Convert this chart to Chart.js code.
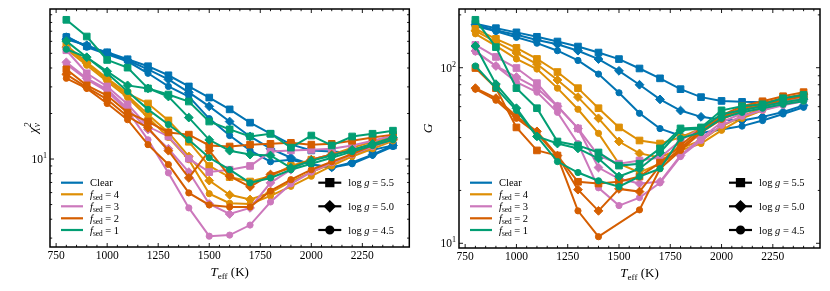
<!DOCTYPE html>
<html>
<head>
<meta charset="utf-8">
<script src="https://cdn.jsdelivr.net/npm/chart.js@4.4.0/dist/chart.umd.min.js"></script>
<style>
  html, body { margin: 0; padding: 0; background: #fff; }
  #wrap { position: relative; width: 830px; height: 291px; }
  canvas { position: absolute; top: 0; }
  #chiChart { left: 0; }
  #gChart { left: 415px; }
</style>
</head>
<body>
<div id="wrap">
  <canvas id="chiChart" width="415" height="291"></canvas>
  <canvas id="gChart" width="415" height="291"></canvas>
</div>
<script>
// temperatures (K)
const teff = [800, 900, 1000, 1100, 1200, 1300, 1400, 1500, 1600, 1700, 1800, 1900, 2000, 2100, 2200, 2300, 2400];

// reduced chi^2, left panel  (55 = log g 5.5, 50 = 5.0, 45 = 4.5)
const chiClear55 = [64.0, 55.7, 50.8, 45.7, 41.1, 35.8, 30.2, 25.5, 21.3, 17.4, 14.7, 12.5, 11.4, 11.2, 11.0, 11.5, 12.3];
const chiClear50 = [62.0, 56.6, 50.1, 45.0, 39.2, 33.6, 27.6, 22.3, 17.7, 14.1, 11.7, 10.2, 9.2, 8.8, 9.5, 10.7, 12.3];
const chiClear45 = [64.9, 54.9, 49.3, 44.3, 36.9, 30.2, 25.9, 18.5, 14.3, 11.4, 9.6, 9.9, 9.2, 8.8, 9.3, 10.6, 12.1];
const chiF4_55 = [56.6, 43.6, 34.2, 27.2, 23.3, 18.0, 13.0, 9.0, 7.6, 7.1, 7.7, 9.0, 9.9, 10.7, 11.9, 13.0, 14.1];
const chiF4_50 = [54.9, 43.0, 33.6, 26.3, 19.7, 15.0, 10.4, 7.2, 5.8, 5.4, 6.0, 7.1, 8.2, 9.3, 10.7, 12.1, 13.4];
const chiF4_45 = [53.2, 41.7, 32.6, 25.5, 18.8, 13.9, 9.9, 5.9, 5.1, 5.05, 5.7, 6.6, 7.7, 9.0, 10.4, 11.7, 13.2];
const chiF3_55 = [52.4, 36.9, 30.2, 23.0, 16.4, 14.1, 10.05, 8.2, 8.5, 9.0, 11.2, 11.4, 11.5, 11.7, 12.3, 13.2, 14.3];
const chiF3_50 = [43.6, 34.2, 28.9, 21.6, 15.7, 11.7, 8.2, 5.05, 4.33, 4.75, 6.96, 8.5, 9.9, 10.7, 11.5, 12.6, 13.6];
const chiF3_45 = [42.3, 33.6, 28.0, 20.9, 13.4, 8.1, 4.75, 3.09, 3.14, 3.66, 5.2, 6.85, 8.2, 9.45, 10.7, 12.1, 13.4];
const chiF2_55 = [39.2, 30.7, 26.3, 20.3, 17.7, 15.0, 14.5, 12.3, 12.1, 12.45, 12.6, 12.8, 12.45, 12.6, 13.2, 13.9, 14.5];
const chiF2_50 = [36.3, 29.8, 24.8, 19.1, 16.1, 11.35, 7.5, 11.35, 7.7, 6.55, 7.9, 8.75, 9.9, 10.7, 11.5, 12.6, 13.6];
const chiF2_45 = [34.2, 29.3, 23.3, 18.2, 12.45, 9.2, 5.97, 4.97, 4.82, 4.82, 6.15, 7.3, 8.5, 9.6, 10.8, 12.3, 13.4];
const chiF1_55 = [83.3, 64.6, 45.2, 40.2, 29.3, 26.7, 24.0, 17.7, 15.7, 14.1, 14.7, 11.9, 14.3, 12.3, 14.1, 14.7, 15.4];
const chiF1_50 = [60.2, 47.1, 38.0, 30.7, 29.3, 25.9, 18.8, 13.4, 11.35, 10.7, 10.55, 8.75, 9.75, 10.55, 11.5, 12.6, 13.9];
const chiF1_45 = [53.2, 47.1, 36.9, 28.0, 21.3, 16.9, 13.4, 10.2, 8.5, 6.96, 7.5, 8.5, 9.3, 10.2, 11.2, 12.3, 13.4];

// G statistic, right panel
const gClear55 = [178, 168, 159, 150, 141, 132, 122, 112, 99, 87, 75.5, 68, 64.7, 63.9, 63.5, 64.5, 66.9];
const gClear50 = [176, 163, 154, 144, 136, 125, 112, 96, 80, 66, 57, 52.5, 50.5, 50, 52.5, 56, 61];
const gClear45 = [173, 161, 149, 138, 125, 110, 92, 72, 55, 45, 41, 42.5, 44.5, 46.5, 50, 54.5, 59.5];
const gF4_55 = [166.5, 146, 129.7, 112.2, 94.5, 76.5, 58.8, 45.7, 38.5, 37.0, 40.1, 45.1, 51.5, 57.2, 61.9, 66.2, 69.8];
const gF4_50 = [162.3, 140.4, 121.4, 105, 85.1, 68.0, 51.5, 38.0, 32.5, 30.8, 34.7, 38.5, 46.4, 52.9, 58.8, 63.6, 68.0];
const gF4_45 = [156, 133.1, 112.2, 98.3, 76.5, 58.0, 42.3, 28.4, 25.3, 28.4, 33.8, 37.0, 44.0, 51.5, 57.2, 61.9, 66.2];
const gF3_55 = [134.9, 115.2, 99.6, 81.7, 60.3, 45.1, 31.6, 28.4, 29.6, 30.8, 38.5, 45.1, 52.2, 57.2, 61.1, 65.3, 68.0];
const gF3_50 = [124.6, 102.3, 88.5, 76.5, 60.3, 45.1, 27.0, 23.3, 21.9, 22.4, 31.6, 39.6, 48.9, 55.0, 59.5, 63.6, 66.2];
const gF3_45 = [123, 102.3, 82.8, 72.6, 55.7, 37.0, 20.7, 16.4, 18.2, 22.1, 31.2, 38.5, 47.0, 52.9, 57.2, 61.1, 64.4];
const gF2_55 = [99.6, 76.5, 45.7, 33.8, 31.6, 22.4, 21.9, 22.4, 24.0, 28.8, 36.1, 45.1, 53.6, 60.3, 64.4, 68.8, 72.6];
const gF2_50 = [76.5, 67.1, 52.9, 43.4, 31.6, 20.2, 15.3, 20.4, 19.7, 27.7, 34.7, 44.0, 52.2, 58.8, 62.8, 67.1, 70.7];
const gF2_45 = [75.5, 65.3, 51.5, 42.3, 31.2, 15.3, 10.9, null, 15.5, 26.6, 33.8, 42.8, 50.8, 57.2, 61.1, 65.3, 68.8];
const gF1_55 = [187.5, 131, 76.5, 58.8, 38.0, 36.1, 32.9, 27.7, 28.4, 34.7, 45.1, 45.7, 57.2, 60.3, 61.9, 67, 70];
const gF1_50 = [133, 80.6, 58.8, 40.6, 37.0, 34.7, 30.4, 24.0, 26.6, 32.9, 44.0, 45.1, 54.3, 57.2, 60.3, 63.6, 66.2];
const gF1_45 = [102.3, 76.5, 57.2, 40.6, 29.2, 25.3, 22.7, 21.0, 24.0, 26.6, 39.6, 42.8, 51.5, 55.7, 58.8, 61.9, 64.4];

// ticks
const xMajor = [750, 1000, 1250, 1500, 1750, 2000, 2250];
const xLabels = ["750", "1000", "1250", "1500", "1750", "2000", "2250"];
const chiMajor = [10];
const chiMinor = [3, 4, 5, 6, 7, 8, 9, 20, 30, 40, 50, 60, 70, 80, 90];
const gMajor = [10, 100];
const gMinor = [20, 30, 40, 50, 60, 70, 80, 90, 200];

const groupNames = ["Clear", "4", "3", "2", "1"];
const groupColors = ["#0173B2", "#DE8F05", "#CC78BC", "#D55E00", "#029E73"];
const loggNames = ["5.5", "5.0", "4.5"];
const markers = ["rect", "rectRot", "circle"];
const markerRadius = [4.7, 4.4, 3.1];

const SERIF = "'Liberation Serif','DejaVu Serif',serif";

// --- small rich text helper (italic / sub / sup) ---
function setFont(ctx, p, size) {
  const fs = p.s ? size * 0.7 : size;
  ctx.font = (p.i ? "italic " : "") + fs.toFixed(1) + "px " + SERIF;
}
function richWidth(ctx, parts, size) {
  let w = 0;
  parts.forEach(p => {
    if (p.both) {
      ctx.font = (p.i ? "italic " : "") + (size * 0.7).toFixed(1) + "px " + SERIF;
      w += Math.max(ctx.measureText(p.sup).width, ctx.measureText(p.sub).width);
    } else {
      setFont(ctx, p, size);
      w += ctx.measureText(p.t).width;
    }
  });
  return w;
}
function drawRich(ctx, parts, x, y, size, align) {
  const w = richWidth(ctx, parts, size);
  let cx = align === "center" ? x - w / 2 : align === "right" ? x - w : x;
  ctx.textBaseline = "alphabetic";
  ctx.textAlign = "left";
  parts.forEach(p => {
    if (p.both) {
      ctx.font = (p.i ? "italic " : "") + (size * 0.7).toFixed(1) + "px " + SERIF;
      ctx.fillText(p.sup, cx, y - size * 0.42);
      ctx.fillText(p.sub, cx, y + size * 0.25);
      cx += Math.max(ctx.measureText(p.sup).width, ctx.measureText(p.sub).width);
    } else {
      setFont(ctx, p, size);
      const dy = p.s === "sub" ? size * 0.22 : p.s === "sup" ? -size * 0.42 : 0;
      ctx.fillText(p.t, cx, y + dy);
      cx += ctx.measureText(p.t).width;
    }
  });
}

function groupLabel(i) {
  if (i === 0) return [{ t: "Clear" }];
  return [{ t: "f", i: true }, { t: "sed", s: "sub" }, { t: " = " + groupNames[i] }];
}

function buildDatasets(series) {
  const out = [];
  series.forEach((trio, gi) => {
    trio.forEach((vals, k) => {
      out.push({
        data: vals.map((v, i) => ({ x: teff[i], y: v })),
        borderColor: groupColors[gi],
        backgroundColor: groupColors[gi],
        pointBackgroundColor: groupColors[gi],
        pointBorderColor: groupColors[gi],
        borderWidth: 2,
        pointStyle: markers[k],
        pointRadius: markerRadius[k],
        pointBorderWidth: 1,
        spanGaps: true,
        tension: 0,
        fill: false
      });
    });
  });
  // matplotlib draws later series on top; Chart.js puts the first on top
  return out.reverse();
}

const framePlugin = {
  id: "frame",
  afterDatasetsDraw(chart, args, o) {
    const ctx = chart.ctx, a = chart.chartArea;
    const xs = chart.scales.x, ys = chart.scales.y;
    ctx.save();
    ctx.strokeStyle = "#000";
    ctx.fillStyle = "#000";

    const line = (x1, y1, x2, y2) => { ctx.beginPath(); ctx.moveTo(x1, y1); ctx.lineTo(x2, y2); ctx.stroke(); };

    // inward ticks
    ctx.lineWidth = 0.9;
    for (let v = 750; v <= 2450; v += 50) {
      const px = xs.getPixelForValue(v);
      const len = xMajor.includes(v) ? 4 : 2.2;
      line(px, a.bottom, px, a.bottom - len);
      line(px, a.top, px, a.top + len);
    }
    o.yMinor.forEach(v => {
      const py = ys.getPixelForValue(v);
      line(a.left, py, a.left + 2.2, py);
      line(a.right, py, a.right - 2.2, py);
    });
    o.yMajor.forEach(v => {
      const py = ys.getPixelForValue(v);
      line(a.left, py, a.left + 4, py);
      line(a.right, py, a.right - 4, py);
    });

    // frame
    ctx.lineWidth = 1.5;
    ctx.strokeRect(a.left, a.top, a.right - a.left, a.bottom - a.top);

    // tick labels
    xMajor.forEach((v, i) => {
      drawRich(ctx, [{ t: xLabels[i] }], xs.getPixelForValue(v), a.bottom + 12, 11.5, "center");
    });
    o.yMajor.forEach(v => {
      const exp = String(Math.round(Math.log10(v)));
      drawRich(ctx, [{ t: "10" }, { t: exp, s: "sup" }], a.left - 3, ys.getPixelForValue(v) + 4, 11.5, "right");
    });

    // axis titles
    drawRich(ctx, [{ t: "T", i: true }, { t: "eff", s: "sub" }, { t: " (K)" }], (a.left + a.right) / 2, a.bottom + 29, 13, "center");
    ctx.save();
    ctx.translate(o.yTitleX, (a.top + a.bottom) / 2);
    ctx.rotate(-Math.PI / 2);
    drawRich(ctx, o.yTitle, 0, 4.5, 13.5, "center");
    ctx.restore();

    // colour legend
    const rows = [173.7, 185.3, 197.3, 209.3, 221];
    groupColors.forEach((c, i) => {
      const y = a.top + rows[i];
      ctx.strokeStyle = c;
      ctx.lineWidth = 2.2;
      line(a.left + 11, y, a.left + 33, y);
      ctx.fillStyle = "#000";
      drawRich(ctx, groupLabel(i), a.left + 40, y + 3.5, 10.5, "left");
    });

    // marker legend
    const mrows = [173.7, 197.3, 221];
    const mr = [5, 4.8, 3.5];
    loggNames.forEach((g, k) => {
      const y = a.top + mrows[k];
      const x1 = a.right - 91, x2 = a.right - 68;
      ctx.strokeStyle = "#000";
      ctx.fillStyle = "#000";
      ctx.lineWidth = 2.2;
      line(x1, y, x2, y);
      if (Chart.helpers && Chart.helpers.drawPoint) {
        Chart.helpers.drawPoint(ctx, { pointStyle: markers[k], radius: mr[k], rotation: 0, borderWidth: 1 }, (x1 + x2) / 2, y);
      }
      drawRich(ctx, [{ t: "log " }, { t: "g", i: true }, { t: " = " + g }], a.right - 61, y + 3.5, 10.5, "left");
    });

    ctx.restore();
  }
};

function makeChart(id, series, yMin, yMax, padding, frameOpts) {
  return new Chart(document.getElementById(id), {
    type: "line",
    data: { datasets: buildDatasets(series) },
    plugins: [framePlugin],
    options: {
      responsive: false,
      animation: false,
      events: [],
      layout: { padding: padding },
      scales: {
        x: { type: "linear", min: 720, max: 2480, display: false },
        y: { type: "logarithmic", min: yMin, max: yMax, display: false }
      },
      plugins: {
        legend: { display: false },
        tooltip: { enabled: false },
        frame: frameOpts
      }
    }
  });
}

makeChart("chiChart",
  [[chiClear55, chiClear50, chiClear45], [chiF4_55, chiF4_50, chiF4_45], [chiF3_55, chiF3_50, chiF3_45],
   [chiF2_55, chiF2_50, chiF2_45], [chiF1_55, chiF1_50, chiF1_45]],
  2.62, 98.2,
  { left: 50, right: 4, top: 9, bottom: 44 },
  { yMajor: chiMajor, yMinor: chiMinor, yTitleX: 32,
    yTitle: [{ t: "\u03C7", i: true }, { both: true, sup: "2", sub: "\u03BD", i: true }] });

makeChart("gChart",
  [[gClear55, gClear50, gClear45], [gF4_55, gF4_50, gF4_45], [gF3_55, gF3_50, gF3_45],
   [gF2_55, gF2_50, gF2_45], [gF1_55, gF1_50, gF1_45]],
  9.4, 216,
  { left: 44, right: 10, top: 9, bottom: 43 },
  { yMajor: gMajor, yMinor: gMinor, yTitleX: 12,
    yTitle: [{ t: "G", i: true }] });
</script>
</body>
</html>
